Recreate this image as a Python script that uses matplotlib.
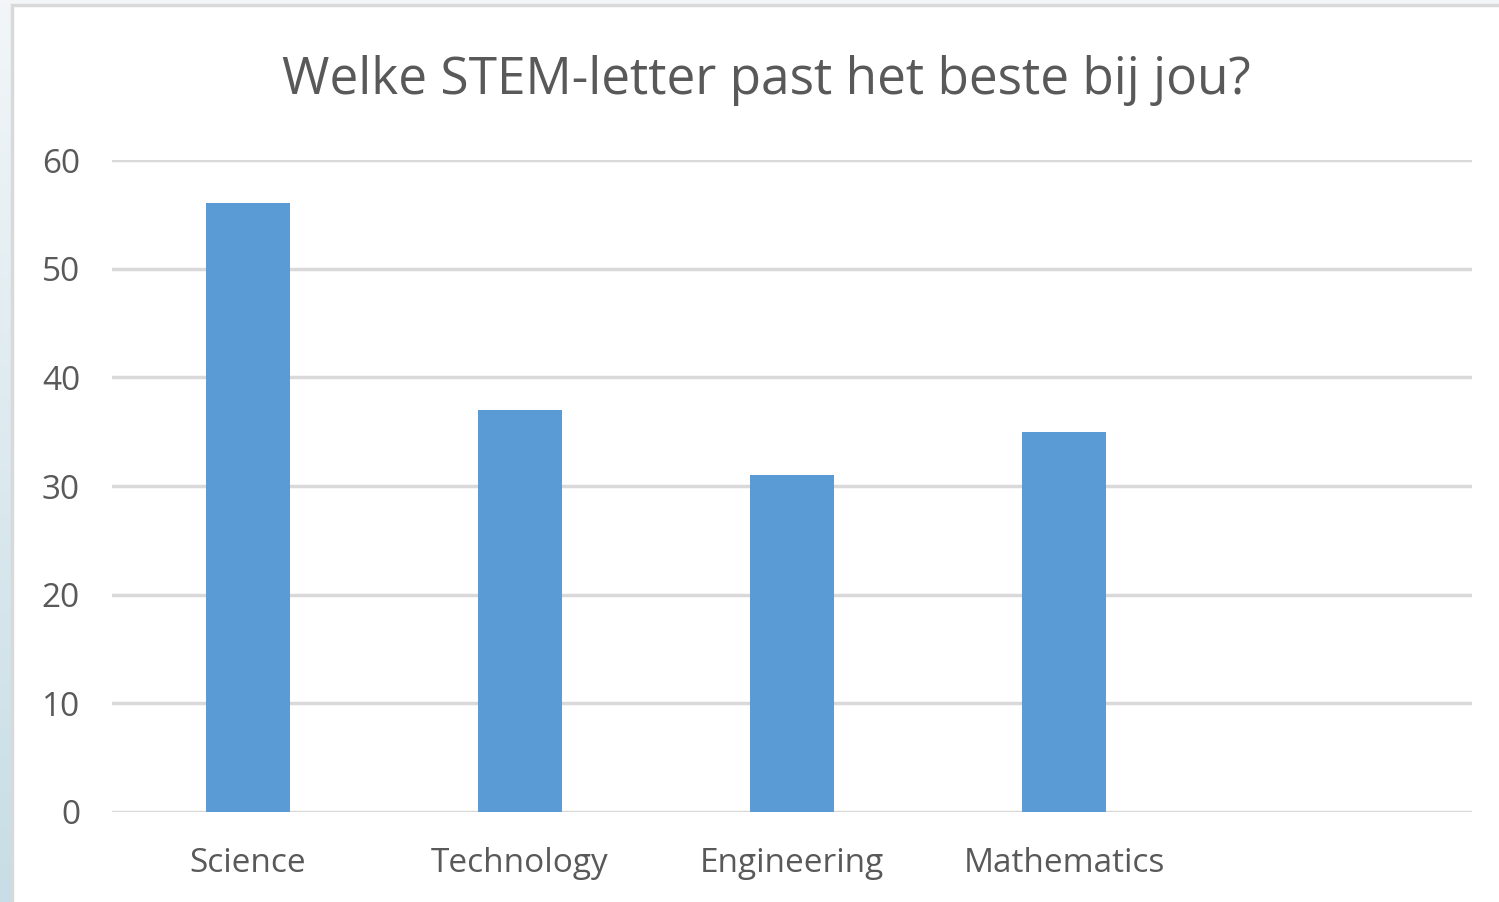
import numpy as np
import matplotlib.pyplot as plt
from matplotlib.patches import Rectangle

categories = ['Science', 'Technology', 'Engineering', 'Mathematics', '']
values = [56, 37, 31, 35, 0]
yticks = [0, 10, 20, 30, 40, 50, 60]

txt = '#595959'
plt.rcParams['font.family'] = ['Open Sans', 'DejaVu Sans']

fig = plt.figure(figsize=(14.99, 9.02), dpi=100)

# background outside the chart frame (light blue-grey gradient)
bg = fig.add_axes([0, 0, 1, 1], zorder=-10)
grad = np.linspace(0, 1, 256).reshape(-1, 1)
bg.imshow(grad, aspect='auto', cmap=plt.matplotlib.colors.LinearSegmentedColormap.from_list(
    'bg', ['#f2f6f8', '#c8dde5']), extent=[0, 1, 0, 1], origin='upper')
bg.add_patch(Rectangle((12 / 1499, -0.01), 1.0, 1 - 5 / 902 + 0.01,
                       facecolor='white', edgecolor='#d9d9d9', linewidth=2.5,
                       transform=bg.transAxes))
bg.set_xlim(0, 1)
bg.set_ylim(0, 1)
bg.axis('off')

ax = fig.add_axes([112 / 1499, 1 - 812 / 902, (1472 - 112) / 1499, (812 - 160) / 902])
ax.set_facecolor('none')
x = np.arange(len(categories))
ax.bar(x, values, width=0.31, color='#5b9bd5', zorder=3)
ax.set_xlim(-0.5, len(categories) - 0.5)
ax.set_ylim(0, 60)
ax.set_yticks(yticks)
ax.set_xticks(x)
ax.set_xticklabels(categories)
ax.grid(axis='y', color='#d9d9d9', linewidth=2.5, zorder=0)
for s in ax.spines.values():
    s.set_visible(False)
ax.tick_params(axis='both', length=0, labelsize=24, colors=txt)
ax.tick_params(axis='y', pad=23)
ax.tick_params(axis='x', pad=25)

fig.text(766 / 1499, 1 - 80 / 902, 'Welke STEM-letter past het beste bij jou?',
         ha='center', va='center', fontsize=37, color=txt)

fig.savefig('out.png', dpi=100)
